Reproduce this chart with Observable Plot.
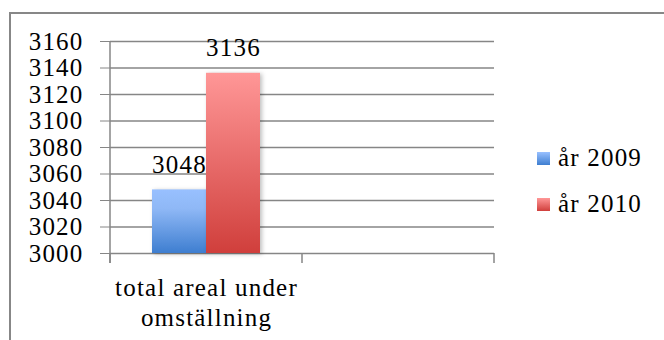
<!DOCTYPE html>
<html><head><meta charset="utf-8">
<script src="https://cdn.jsdelivr.net/npm/d3@7"></script>
<script src="https://cdn.jsdelivr.net/npm/@observablehq/plot@0.6"></script>
<style>
body{margin:0;background:#fff;}
#wrap{position:relative;width:664px;height:340px;overflow:hidden;background:#fff;font-family:"Liberation Serif",serif;letter-spacing:1.2px;}
#border{position:absolute;left:9px;top:12px;width:700px;height:400px;border:2.5px solid #878787;box-sizing:border-box;}
#chart{position:absolute;left:0;top:0;}
#legend{position:absolute;left:537px;top:146px;font-size:25px;color:#000;}
.item{display:flex;align-items:center;height:24px;margin-bottom:22px;white-space:nowrap;}
.sw{width:13px;height:13px;margin-right:8px;}
g[aria-label="y-axis tick"], g[aria-label="y-axis tick"] *{stroke:#868686 !important;}
</style></head><body>
<svg width="0" height="0" style="position:absolute">
<defs>
<linearGradient id="g2009" x1="0" y1="0" x2="0" y2="1"><stop offset="0" stop-color="#98c0ff"/><stop offset="0.3" stop-color="#8fb8f6"/><stop offset="1" stop-color="#3e7ed0"/></linearGradient>
<linearGradient id="g2010" x1="0" y1="0" x2="0" y2="1"><stop offset="0" stop-color="#ff9797"/><stop offset="1" stop-color="#d03f3c"/></linearGradient>
</defs></svg>
<div id="wrap"><div id="border"></div><div id="chart"></div><div id="legend"></div></div>
<script>
const categories = ["total areal under omställning"];
const categoryLabels = ["total areal under\nomställning"];
const series = ["år 2009", "år 2010"];
const values2009 = [3048];
const values2010 = [3136];
const yTicks = [3000, 3020, 3040, 3060, 3080, 3100, 3120, 3140, 3160];
const blankSlot = " ";
const seriesFills = ["url(#g2009)", "url(#g2010)"];

const slots = [...categories, blankSlot];
const data = categories.flatMap((c, i) => [
  {cat: c, series: series[0], value: values2009[i]},
  {cat: c, series: series[1], value: values2010[i]}
]);
const gridRows = slots.flatMap(s => yTicks.map(v => ({slot: s, value: v})));
const labelRows = categories.map((c, i) => ({cat: c, label: categoryLabels[i]}));
const yMin = yTicks[0], yMax = yTicks[yTicks.length - 1];

const chart = Plot.plot({
  width: 664, height: 340,
  marginLeft: 110, marginRight: 170, marginTop: 41, marginBottom: 87,
  style: {fontFamily: "'Liberation Serif', serif", fontSize: "25px", letterSpacing: "1.2px", background: "transparent", overflow: "visible", color: "#000"},
  fx: {domain: slots, paddingInner: 0, paddingOuter: 0, axis: null, label: null},
  x: {domain: series, paddingInner: 0, paddingOuter: 0.76, axis: null, label: null},
  y: {domain: [yMin, yMax], ticks: yTicks, tickSize: 10, tickPadding: 17, label: null, tickFormat: d => String(d)},
  marks: [
    Plot.ruleY(gridRows, {fx: "slot", y: "value", stroke: "#868686", strokeWidth: 1.5}),
    ...series.map((s, k) => Plot.barY(data.filter(d => d.series === s), {fx: "cat", x: "series", y1: yMin, y2: "value", fill: seriesFills[k]})),
    Plot.text(data, {fx: "cat", x: "series", y: "value", text: d => String(d.value), dy: -17, lineAnchor: "bottom", fontSize: 25}),
    Plot.text(labelRows, {fx: "cat", text: "label", frameAnchor: "bottom", lineAnchor: "top", dy: 21, lineHeight: 1.2, fontSize: 25})
  ]
});
document.getElementById("chart").appendChild(chart);

// axis lines & category ticks, positioned from Plot's own scales
const fxS = chart.scale("fx"), yS = chart.scale("y");
const band = d3.scaleBand().domain(fxS.domain).range(fxS.range).paddingInner(0).paddingOuter(0);
const yl = d3.scaleLinear().domain(yS.domain).range(yS.range);
const svg = d3.select(chart.tagName.toLowerCase() === "svg" ? chart : chart.querySelector("svg"));
const g = svg.append("g").attr("stroke", "#868686").attr("stroke-width", 1.5);
const edges = [band(slots[0]), ...slots.map(s => band(s) + band.bandwidth())];
edges.forEach(x => g.append("line").attr("x1", x).attr("x2", x).attr("y1", yl(yMin)).attr("y2", yl(yMin) + 10));
g.append("line").attr("x1", edges[0]).attr("x2", edges[0]).attr("y1", yl(yMax)).attr("y2", yl(yMin) + 10);
svg.selectAll('g[aria-label="bar"]').style("filter", "drop-shadow(2px 1px 2px rgba(0,0,0,0.25))");

const legend = d3.select("#legend");
series.forEach((s, k) => {
  const it = legend.append("div").attr("class", "item");
  it.append("div").attr("class", "sw").style("background", k === 0 ? "linear-gradient(#98c0ff,#3e7ed0)" : "linear-gradient(#ff9797,#d03f3c)");
  it.append("span").text(s);
});
</script>
</body></html>
